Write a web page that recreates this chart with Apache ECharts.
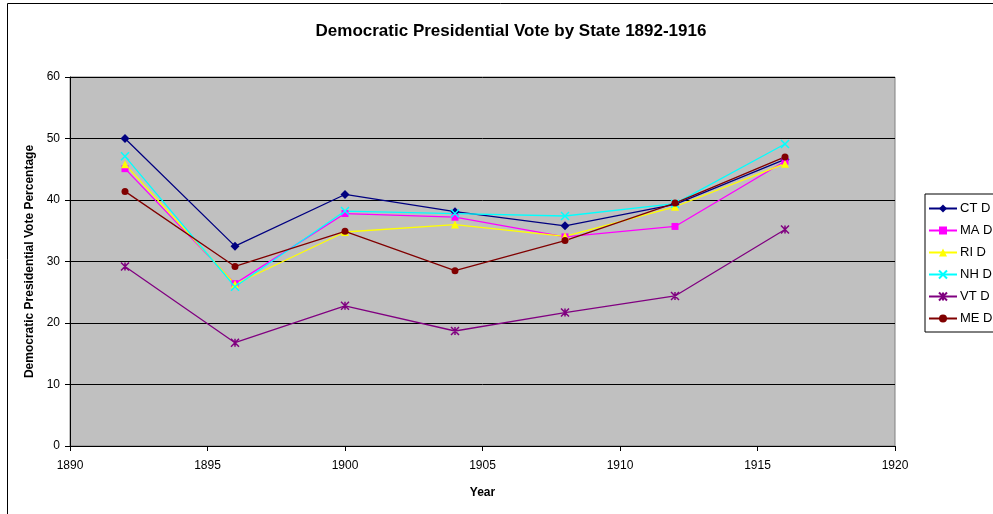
<!DOCTYPE html>
<html>
<head>
<meta charset="utf-8">
<script src="https://cdn.jsdelivr.net/npm/echarts@6/dist/echarts.min.js"></script>
<style>
  html, body { margin: 0; padding: 0; background: #fff; }
  #chart { width: 993px; height: 514px; }
</style>
</head>
<body>
<div id="chart"></div>
<script>
const years = [1892, 1896, 1900, 1904, 1908, 1912, 1916];
const ctD = [50.0, 32.5, 40.9, 38.1, 35.8, 39.3, 46.6];
const maD = [45.1, 26.4, 37.8, 37.2, 34.0, 35.7, 46.3];
const riD = [45.8, 26.3, 34.8, 36.0, 34.1, 38.9, 45.9];
const nhD = [47.1, 25.9, 38.2, 37.8, 37.4, 39.4, 49.1];
const vtD = [29.2, 16.8, 22.8, 18.7, 21.7, 24.4, 35.2];
const meD = [41.4, 29.2, 34.9, 28.5, 33.4, 39.5, 47.0];

const xSymbol = 'path://M0,0 L10,10 M10,0 L0,10 Z';
const starSymbol = 'path://M0,0 L10,10 M10,0 L0,10 M5,0 L5,10 Z';

const font = 'Arial, "Liberation Sans", sans-serif';

function makeSeries(name, data, color, symbol, size, lineMarker) {
    return {
        name: name,
        type: 'line',
        data: years.map((y, i) => [y, data[i]]),
        symbol: symbol,
        symbolSize: size,
        showAllSymbol: true,
        lineStyle: { color: color, width: 1.3 },
        itemStyle: lineMarker
            ? { color: 'none', borderColor: color, borderWidth: 1.5 }
            : { color: color, borderColor: color, borderWidth: 0 },
        emphasis: { disabled: true },
        animation: false
    };
}

let chart = echarts.init(document.getElementById('chart'));

let option = {
    animation: false,
    textStyle: { fontFamily: font },
    title: {
        text: 'Democratic Presidential Vote by State 1892-1916',
        left: 506,
        textAlign: 'center',
        top: 18,
        textStyle: { fontSize: 17, fontWeight: 'bold', color: '#000', fontFamily: font }
    },
    graphic: [
        {
            type: 'rect',
            shape: { x: 7.5, y: 3.5, width: 1000, height: 520 },
            style: { fill: 'none', stroke: '#000', lineWidth: 1 },
            silent: true
        }
    ],
    legend: {
        orient: 'vertical',
        left: 925,
        top: 194,
        itemWidth: 28,
        itemHeight: 10,
        itemGap: 9,
        padding: [8, 20, 7, 3],
        borderColor: '#000',
        borderWidth: 1,
        backgroundColor: '#fff',
        textStyle: { fontSize: 13, color: '#000', fontFamily: font, padding: [0, 0, 0, -2] },
        data: ['CT D', 'MA D', 'RI D', 'NH D', 'VT D', 'ME D']
    },
    grid: {
        left: 70,
        top: 77,
        width: 825,
        height: 369,
        show: true,
        backgroundColor: '#C0C0C0',
        borderColor: '#808080',
        borderWidth: 1
    },
    xAxis: {
        type: 'value',
        min: 1890,
        max: 1920,
        interval: 5,
        name: 'Year',
        nameLocation: 'middle',
        nameGap: 41,
        nameTextStyle: { fontSize: 12, fontWeight: 'bold', color: '#000', fontFamily: font },
        axisLine: { show: true, lineStyle: { color: '#000', width: 1 } },
        axisTick: { show: true, inside: false, length: 5, lineStyle: { color: '#000' } },
        axisLabel: { fontSize: 12, color: '#000', margin: 14, fontFamily: font, formatter: v => String(v) },
        splitLine: { show: false }
    },
    yAxis: {
        type: 'value',
        min: 0,
        max: 60,
        interval: 10,
        name: 'Democratic Presidential Vote Percentage',
        nameLocation: 'middle',
        nameGap: 32,
        nameRotate: 90,
        nameTextStyle: { fontSize: 12, fontWeight: 'bold', color: '#000', fontFamily: font },
        axisLine: { show: true, lineStyle: { color: '#000', width: 1 } },
        axisTick: { show: true, inside: false, length: 5, lineStyle: { color: '#000' } },
        axisLabel: { fontSize: 12, color: '#000', margin: 10, fontFamily: font },
        splitLine: { show: true, lineStyle: { color: '#000', width: 1 } }
    },
    series: [
        makeSeries('CT D', ctD, '#000080', 'diamond', 9, false),
        makeSeries('MA D', maD, '#FF00FF', 'rect', 7, false),
        makeSeries('RI D', riD, '#FFFF00', 'triangle', 8, false),
        makeSeries('NH D', nhD, '#00FFFF', xSymbol, 8, true),
        makeSeries('VT D', vtD, '#800080', starSymbol, 8, true),
        makeSeries('ME D', meD, '#800000', 'circle', 7, false)
    ]
};

option && chart.setOption(option);
</script>
</body>
</html>
